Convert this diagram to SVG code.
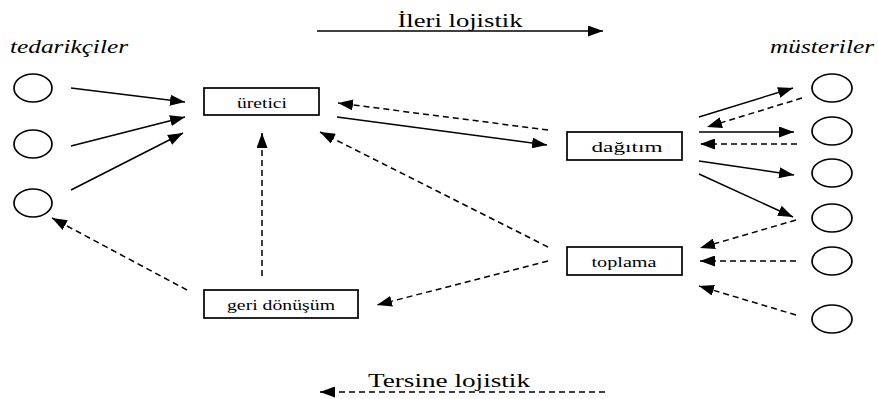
<svg xmlns="http://www.w3.org/2000/svg" width="878" height="399" viewBox="0 0 878 399">
<style>
  .bg{fill:#ffffff}
  .node ellipse{fill:#ffffff;stroke:#000;stroke-width:1.7}
  .node rect{fill:#ffffff;stroke:#000;stroke-width:1.7}
  text{font-family:"Liberation Serif","DejaVu Serif","Times New Roman",serif;fill:#000;text-anchor:middle}
  .box{font-size:15px}
  .ttl{font-size:19px}
  .it{font-style:italic;font-size:18px}
  .c line{stroke:#000;stroke-width:1.5;fill:none;marker-end:url(#ah)}
  .c line.d{stroke-dasharray:6 4}
</style>
<defs>
  <marker id="ah" markerUnits="userSpaceOnUse" markerWidth="15" markerHeight="11" refX="15" refY="5.5" orient="auto">
    <path d="M0,0 L15,5.5 L0,11 z" fill="#000"/>
  </marker>
</defs>
<rect class="bg" width="878" height="399"/>

<text class="ttl" font-family="Liberation Serif, serif" x="460" y="27" textLength="125" lengthAdjust="spacingAndGlyphs">İleri lojistik</text>
<text class="ttl" font-family="Liberation Serif, serif" x="449" y="387" textLength="162" lengthAdjust="spacingAndGlyphs">Tersine lojistik</text>
<text class="it" font-family="Liberation Serif, serif" x="69" y="53" textLength="118" lengthAdjust="spacingAndGlyphs">tedarikçiler</text>
<text class="it" font-family="Liberation Serif, serif" x="822" y="53" textLength="104" lengthAdjust="spacingAndGlyphs">müsteriler</text>

<g id="s1" class="node"><ellipse cx="33" cy="88" rx="19" ry="14"/></g>
<g id="s2" class="node"><ellipse cx="33" cy="144" rx="19" ry="14"/></g>
<g id="s3" class="node"><ellipse cx="33" cy="203" rx="19" ry="14"/></g>

<g id="m1" class="node"><ellipse cx="832" cy="88" rx="20" ry="14"/></g>
<g id="m2" class="node"><ellipse cx="832" cy="131" rx="20" ry="14"/></g>
<g id="m3" class="node"><ellipse cx="832" cy="173" rx="20" ry="14"/></g>
<g id="m4" class="node"><ellipse cx="832" cy="218" rx="20" ry="14"/></g>
<g id="m5" class="node"><ellipse cx="832" cy="261" rx="20" ry="14"/></g>
<g id="m6" class="node"><ellipse cx="832" cy="319" rx="20" ry="14"/></g>

<g id="uretici" class="node"><rect x="204" y="88" width="115" height="27"/><text class="box" font-family="Liberation Serif, serif" x="262" y="108" textLength="50" lengthAdjust="spacingAndGlyphs">üretici</text></g>
<g id="dagitim" class="node"><rect x="567" y="132" width="115" height="28"/><text class="box" font-family="Liberation Serif, serif" x="627" y="152" textLength="71" lengthAdjust="spacingAndGlyphs">dağıtım</text></g>
<g id="toplama" class="node"><rect x="567" y="247" width="115" height="28"/><text class="box" font-family="Liberation Serif, serif" x="624" y="267" textLength="65" lengthAdjust="spacingAndGlyphs">toplama</text></g>
<g id="geri" class="node"><rect x="204" y="290" width="154" height="28"/><text class="box" font-family="Liberation Serif, serif" x="281" y="310" textLength="108" lengthAdjust="spacingAndGlyphs">geri dönüşüm</text></g>

<g id="connectors" class="c">
  <line x1="317" y1="31" x2="603" y2="31"/>
  <line class="d" x1="605" y1="392" x2="320" y2="392"/>
  <line x1="71" y1="88" x2="185" y2="102"/>
  <line x1="71" y1="146" x2="185" y2="117"/>
  <line x1="71" y1="190" x2="183" y2="133"/>
  <line x1="337" y1="117" x2="547" y2="145"/>
  <line x1="699" y1="117" x2="793" y2="88"/>
  <line x1="699" y1="132" x2="794" y2="132"/>
  <line x1="699" y1="161" x2="794" y2="175"/>
  <line x1="699" y1="174" x2="793" y2="217"/>
  <line class="d" x1="548" y1="130" x2="338" y2="103"/>
  <line class="d" x1="548" y1="247" x2="320" y2="132"/>
  <line class="d" x1="548" y1="261" x2="377" y2="305"/>
  <line class="d" x1="262" y1="276" x2="262" y2="133"/>
  <line class="d" x1="187" y1="290" x2="52" y2="218"/>
  <line class="d" x1="802" y1="98" x2="707" y2="127"/>
  <line class="d" x1="797" y1="144" x2="700" y2="144"/>
  <line class="d" x1="796" y1="220" x2="700" y2="248"/>
  <line class="d" x1="796" y1="261" x2="700" y2="261"/>
  <line class="d" x1="796" y1="315" x2="699" y2="286"/>
</g>
</svg>
